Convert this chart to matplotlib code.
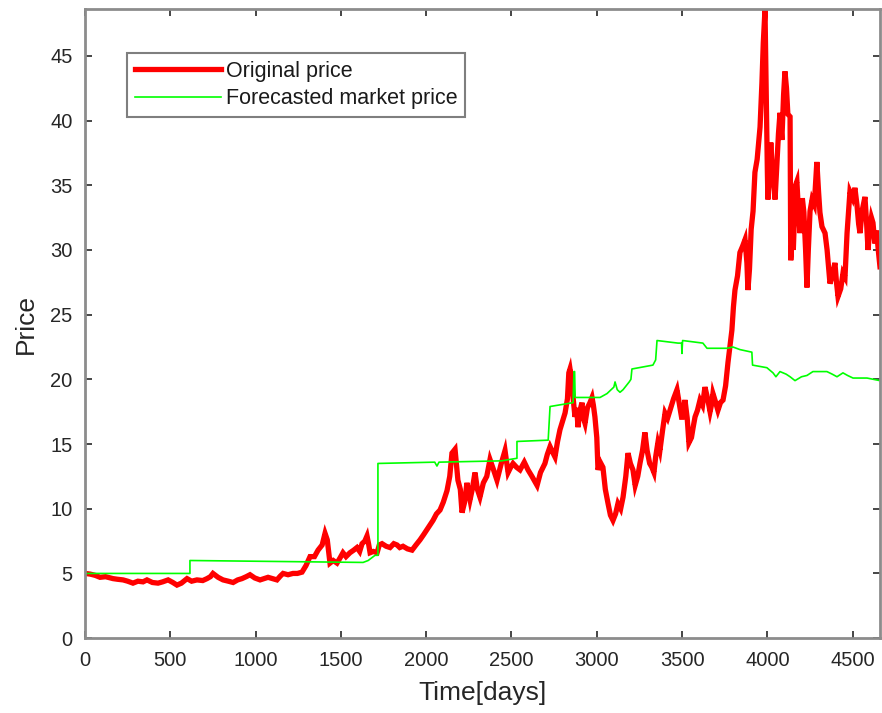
import matplotlib
matplotlib.use("Agg")
import matplotlib.pyplot as plt

plt.rcParams['font.family'] = ['Liberation Sans', 'DejaVu Sans']

# Daily closing price (sampled) and forecasted market price
red_days = [0, 30, 60, 88, 120, 164, 190, 223, 250, 281, 310, 340, 363, 395, 428, 455, 487, 515, 539, 565,
            598, 625, 656, 690, 715, 735, 750, 780, 809, 840, 868, 895, 920, 945, 967, 995, 1026, 1050, 1073, 1100,
            1125, 1145, 1161, 1190, 1219, 1245, 1272, 1295, 1319, 1345, 1366, 1390, 1407, 1420, 1436, 1455, 1477, 1495, 1512, 1530,
            1553, 1575, 1594, 1610, 1624, 1640, 1653, 1662, 1671, 1690, 1712, 1725, 1741, 1765, 1788, 1810, 1829, 1845, 1864, 1890,
            1917, 1940, 1964, 1985, 2005, 2025, 2040, 2060, 2081, 2100, 2122, 2138, 2151, 2169, 2186, 2200, 2210, 2225, 2239, 2257,
            2270, 2286, 2300, 2315, 2335, 2355, 2374, 2395, 2415, 2440, 2462, 2480, 2495, 2509, 2530, 2550, 2575, 2597, 2620, 2650,
            2670, 2696, 2710, 2726, 2740, 2755, 2770, 2784, 2800, 2814, 2828, 2836, 2843, 2852, 2861, 2872, 2882, 2890, 2900, 2913,
            2922, 2931, 2945, 2960, 2972, 2980, 2989, 3000, 3007, 3020, 3036, 3050, 3066, 3080, 3095, 3110, 3124, 3140, 3154, 3170,
            3183, 3197, 3212, 3225, 3240, 3253, 3268, 3282, 3295, 3310, 3323, 3335, 3345, 3358, 3370, 3385, 3400, 3415, 3429, 3450,
            3470, 3485, 3499, 3510, 3517, 3530, 3540, 3555, 3565, 3576, 3590, 3605, 3620, 3634, 3650, 3664, 3675, 3681, 3695, 3710,
            3725, 3740, 3755, 3769, 3780, 3792, 3801, 3810, 3825, 3839, 3855, 3869, 3880, 3886, 3895, 3905, 3916, 3927, 3940, 3950,
            3957, 3968, 3976, 3986, 3993, 4000, 4003, 4012, 4020, 4030, 4045, 4055, 4065, 4074, 4085, 4095, 4103, 4112, 4120, 4133,
            4137, 4145, 4152, 4165, 4173, 4182, 4191, 4205, 4214, 4224, 4232, 4240, 4250, 4262, 4275, 4290, 4300, 4308, 4320, 4338,
            4350, 4367, 4380, 4396, 4405, 4414, 4430, 4443, 4455, 4467, 4484, 4500, 4513, 4525, 4535, 4543, 4555, 4572, 4582, 4590,
            4600, 4610, 4619, 4630, 4640, 4650, 4660]
red_vals = [5.0, 4.95, 4.85, 4.7, 4.75, 4.6, 4.55, 4.5, 4.4, 4.25, 4.4, 4.35, 4.5, 4.3, 4.25, 4.35, 4.5, 4.3, 4.1, 4.25,
            4.6, 4.4, 4.5, 4.45, 4.6, 4.75, 5.0, 4.7, 4.5, 4.4, 4.3, 4.5, 4.6, 4.75, 4.9, 4.65, 4.5, 4.6, 4.7, 4.6,
            4.5, 4.8, 5.0, 4.9, 5.0, 5.0, 5.1, 5.6, 6.3, 6.3, 6.8, 7.2, 8.1, 7.6, 5.8, 6.0, 5.8, 6.2, 6.6, 6.3,
            6.6, 6.8, 7.0, 6.7, 7.3, 7.5, 7.9, 7.3, 6.6, 6.7, 6.6, 7.2, 7.3, 7.1, 7.0, 7.3, 7.2, 7.0, 7.1, 6.9,
            6.8, 7.2, 7.6, 8.0, 8.4, 8.8, 9.1, 9.6, 9.9, 10.5, 11.4, 12.5, 14.3, 14.6, 12.2, 11.5, 9.7, 10.5, 12.0, 10.7,
            11.5, 12.8, 11.5, 10.9, 12.0, 12.5, 13.8, 13.0, 12.2, 13.5, 14.5, 12.8, 13.2, 13.5, 13.2, 13.0, 13.6, 13.0, 12.5, 11.8,
            12.8, 13.5, 14.2, 14.8, 14.4, 14.0, 15.2, 16.1, 16.8, 17.4, 18.5, 20.5, 20.8, 20.0, 18.6, 17.1, 17.8, 16.3, 17.5, 18.2,
            17.0, 16.6, 17.8, 18.2, 18.6, 18.0, 17.1, 15.5, 13.0, 13.6, 13.2, 11.5, 10.4, 9.5, 9.1, 9.6, 10.4, 10.0, 10.9, 12.5,
            14.3, 13.5, 13.0, 11.8, 12.5, 13.5, 14.5, 15.9, 14.5, 13.5, 13.2, 12.8, 14.0, 15.1, 14.5, 16.0, 17.4, 17.0, 17.6, 18.5,
            19.2, 18.0, 16.9, 17.8, 18.4, 17.0, 15.1, 15.5, 16.3, 17.1, 17.6, 18.4, 18.0, 19.4, 18.5, 17.5, 18.2, 18.9, 18.3, 17.6,
            18.2, 18.4, 19.5, 21.3, 22.5, 23.8, 25.6, 26.9, 28.0, 29.8, 30.3, 30.8, 29.0, 26.9, 28.5, 31.6, 33.0, 36.0, 37.0, 38.5,
            39.5, 42.9, 46.0, 48.6, 42.0, 36.0, 33.9, 36.0, 38.3, 36.0, 33.9, 36.5, 39.0, 40.6, 38.5, 42.0, 43.8, 42.5, 40.5, 40.3,
            29.2, 31.0, 30.0, 35.0, 35.3, 33.0, 31.3, 34.0, 32.9, 30.0, 27.1, 30.0, 33.0, 33.9, 33.5, 36.8, 34.5, 32.9, 31.8, 31.3,
            30.0, 27.4, 28.0, 29.0, 27.5, 26.4, 27.0, 28.2, 27.9, 31.3, 34.5, 34.0, 34.8, 33.5, 32.0, 31.3, 33.0, 34.1, 32.0, 30.0,
            31.5, 32.5, 32.1, 30.5, 31.5, 30.0, 28.7]

green_days = [0, 615, 615, 1630, 1660, 1700, 1717, 1717, 2050, 2063, 2075, 2440, 2532, 2532, 2715, 2726,
              2861, 2866, 2870, 2873, 3019, 3060, 3100, 3107, 3120, 3136, 3154, 3190, 3200, 3206, 3329, 3345,
              3353, 3476, 3497, 3499, 3503, 3622, 3646, 3763, 3798, 3839, 3909, 3913, 3997, 4033, 4050, 4074,
              4110, 4133, 4162, 4200, 4232, 4267, 4349, 4380, 4408, 4443, 4470, 4502, 4584, 4660]
green_vals = [5.0, 5.0, 6.0, 5.85, 6.0, 6.4, 6.4, 13.5, 13.6, 13.3, 13.6, 13.7, 13.9, 15.2, 15.3, 17.9,
              18.2, 20.6, 20.6, 18.6, 18.6, 18.9, 19.4, 19.8, 19.2, 19.0, 19.2, 19.8, 20.0, 20.8, 21.1, 21.5,
              23.0, 22.8, 22.8, 22.0, 23.0, 22.8, 22.4, 22.4, 22.5, 22.3, 22.1, 21.1, 20.9, 20.5, 20.2, 20.6,
              20.4, 20.2, 19.9, 20.2, 20.3, 20.6, 20.6, 20.4, 20.2, 20.5, 20.3, 20.1, 20.1, 19.9]

x_ticks = list(range(0, 4501, 500))
y_ticks = list(range(0, 46, 5))

fig = plt.figure(figsize=(8.82, 7.13), dpi=100)
ax = fig.add_axes([0.0964, 0.105, 0.9013, 0.882])

ax.plot(red_days, red_vals, color='#ff0000', lw=3.8, solid_joinstyle='miter', label='Original price')
ax.plot(green_days, green_vals, color='#00ff00', lw=1.2, label='Forecasted market price')

ax.set_xlim(0, 4660)
ax.set_ylim(0, 48.6)
ax.set_xticks(x_ticks)
ax.set_yticks(y_ticks)
ax.tick_params(direction='in', length=5, width=1.2, color='#262626',
               top=True, right=True, labelsize=14.5, labelcolor='#262626')
ax.tick_params(axis='x', pad=9)
ax.tick_params(axis='y', pad=9)
for s in ax.spines.values():
    s.set_color('#8c8c8c')
    s.set_linewidth(2.0)

ax.set_xlabel('Time[days]', fontsize=19, color='#262626', labelpad=8)
ax.set_ylabel('Price', fontsize=19, color='#262626', labelpad=9)

leg = ax.legend(loc='upper left', bbox_to_anchor=(0.053, 0.93), fontsize=15.5,
                handlelength=4.0, handletextpad=0.25, borderpad=0.35, labelspacing=0.3,
                fancybox=False, framealpha=1, borderaxespad=0)
leg.get_frame().set_edgecolor('#7f7f7f')
leg.get_frame().set_linewidth(1.5)
for t in leg.get_texts():
    t.set_color('#1a1a1a')

fig.savefig('out.png', dpi=100)
